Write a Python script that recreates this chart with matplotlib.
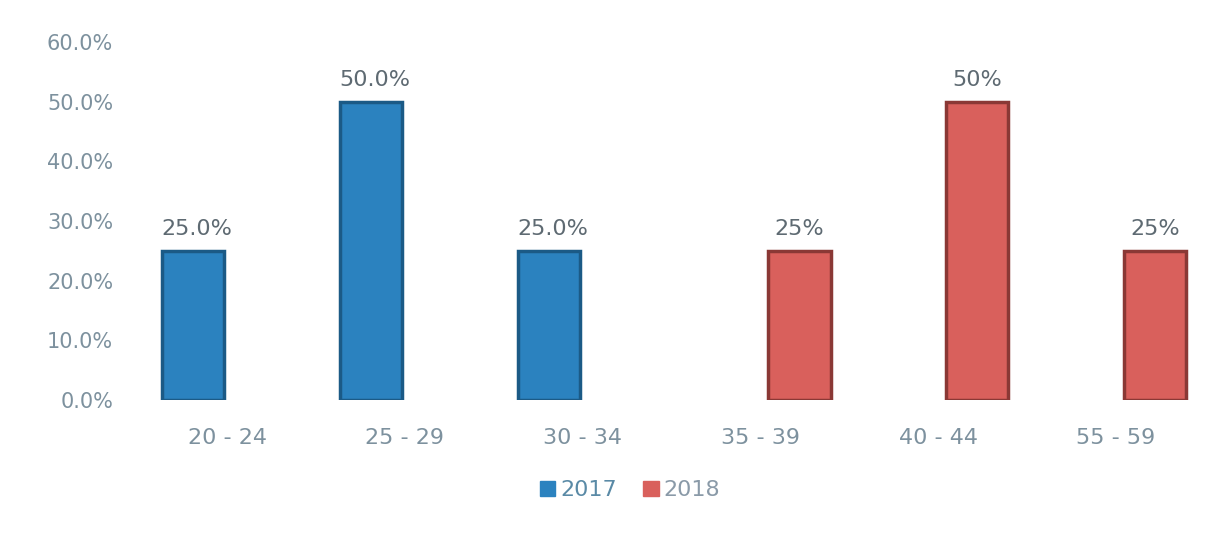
import numpy as np
import matplotlib.pyplot as plt
from matplotlib.patches import Patch

# Dati
categorie = ["20 - 24", "25 - 29", "30 - 34", "35 - 39", "40 - 44", "55 - 59"]
val_2017 = [25.0, 50.0, 25.0, 0, 0, 0]
val_2018 = [0, 0, 0, 25, 50, 25]
etich_2017 = ["25.0%", "50.0%", "25.0%", "", "", ""]
etich_2018 = ["", "", "", "25%", "50%", "25%"]
y_ticks = [0, 10, 20, 30, 40, 50, 60]

blu = "#2b82bf"
rosso = "#d9605c"
grigio = "#7d919e"
testo_dati = "#5e6a72"

fig = plt.figure(figsize=(12.23, 5.4), dpi=100)
ax = fig.add_axes([0.113, 0.259, 0.872, 0.663])

x = np.arange(len(categorie))
w = 0.35

for xi, v, lab in zip(x, val_2017, etich_2017):
    if v > 0:
        ax.bar(xi - 0.19, v, w, color=blu, edgecolor="#1b5a86", linewidth=2.5)
        ax.text(xi - 0.17, v + 2.0, lab, ha="center", va="bottom",
                fontsize=16, color=testo_dati)

for xi, v, lab in zip(x, val_2018, etich_2018):
    if v > 0:
        ax.bar(xi + 0.22, v, w, color=rosso, edgecolor="#8a3835", linewidth=2.5)
        ax.text(xi + 0.22, v + 2.0, lab, ha="center", va="bottom",
                fontsize=16, color=testo_dati)

ax.set_xlim(-0.5, len(categorie) - 0.5)
ax.set_ylim(0, 60)
ax.set_yticks(y_ticks)
ax.set_yticklabels([f"{t:.1f}%" for t in y_ticks], fontsize=15, color=grigio)
ax.set_xticks(x)
ax.set_xticklabels(categorie, fontsize=16, color=grigio)
ax.tick_params(axis="y", length=0, pad=18)
ax.tick_params(axis="x", length=0, pad=20)
for s in ax.spines.values():
    s.set_visible(False)

handles = [Patch(color=blu), Patch(color=rosso)]
leg = fig.legend(handles, ["2017", "2018"], loc="center", bbox_to_anchor=(0.515, 0.092),
                 ncol=2, frameon=False, fontsize=16, handlelength=0.7, handleheight=0.7,
                 handletextpad=0.2, columnspacing=1.2)
leg.get_texts()[0].set_color("#5a8aa6")
leg.get_texts()[1].set_color("#8a9aa8")

fig.savefig("out.png", dpi=100)
